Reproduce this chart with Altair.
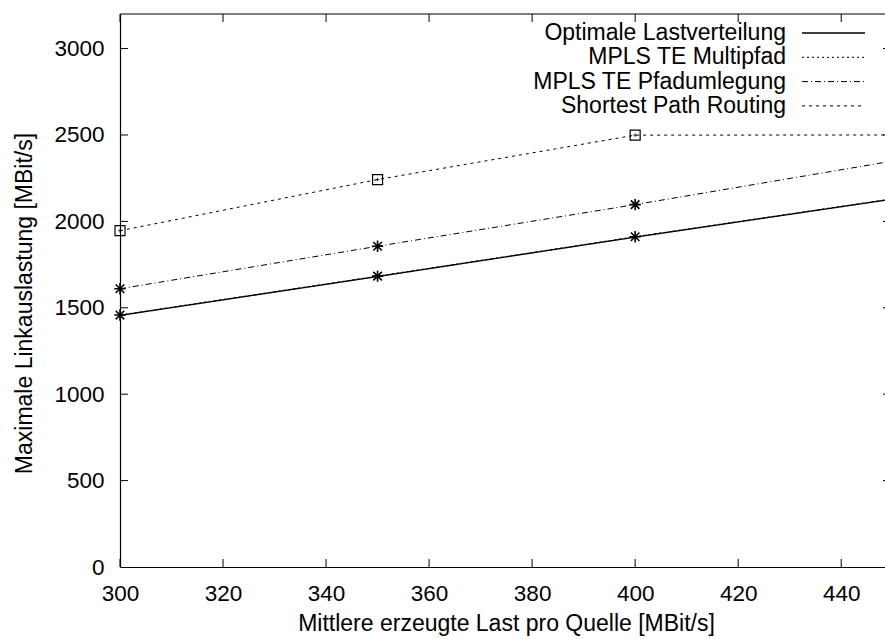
import altair as alt
import pandas as pd

# Mean offered load per source [MBit/s]
load = [300, 350, 400, 450]

# Maximum link utilisation [MBit/s] per routing strategy
optimal = [1456, 1681, 1909, 2129]
multipath = [1458, 1683, 1911, 2131]
rerouting = [1610, 1856, 2097, 2349]
shortest = [1946, 2242, 2499, 2500]

series_names = [
    "Optimale Lastverteilung",
    "MPLS TE Multipfad",
    "MPLS TE Pfadumlegung",
    "Shortest Path Routing",
]
series_values = [optimal, multipath, rerouting, shortest]

x_ticks = [300, 320, 340, 360, 380, 400, 420, 440]
y_ticks = [0, 500, 1000, 1500, 2000, 2500, 3000]

FONT = "Liberation Sans"
W, H = 765, 553
X_DOMAIN = [300, 448.5]
Y_DOMAIN = [0, 3200]
TICK_LEN = 8

dashes = {
    "Optimale Lastverteilung": [1, 0],
    "MPLS TE Multipfad": [2, 3],
    "MPLS TE Pfadumlegung": [6, 3, 1, 3],
    "Shortest Path Routing": [3, 4],
}
widths = {
    "Optimale Lastverteilung": 1.4,
    "MPLS TE Multipfad": 1.0,
    "MPLS TE Pfadumlegung": 1.0,
    "Shortest Path Routing": 1.0,
}

rows = []
for name, vals in zip(series_names, series_values):
    for xv, yv in zip(load, vals):
        rows.append({"load": xv, "util": yv, "series": name})
df = pd.DataFrame(rows)

x_scale = alt.Scale(domain=X_DOMAIN, nice=False, zero=False)
y_scale = alt.Scale(domain=Y_DOMAIN, nice=False, zero=True)

x_axis = alt.Axis(
    values=x_ticks, format="d", ticks=False, grid=False, domainColor="black",
    domainWidth=1.2, labelFont=FONT, labelFontSize=22.5, labelColor="black",
    labelPadding=15, labelFlush=False,
    title="Mittlere erzeugte Last pro Quelle [MBit/s]", titleFont=FONT,
    titleFontSize=23, titleFontWeight="normal", titleColor="black",
    titleX=386, titleY=56, titleAlign="center", titleBaseline="middle",
)
y_axis = alt.Axis(
    values=y_ticks, format="d", ticks=False, grid=False, domainColor="black",
    domainWidth=1.2, labelFont=FONT, labelFontSize=22.5, labelColor="black",
    labelPadding=16, labelFlush=False,
    title="Maximale Linkauslastung [MBit/s]", titleFont=FONT,
    titleFontSize=23, titleFontWeight="normal", titleColor="black",
    titleX=-96, titleY=289, titleAlign="center", titleBaseline="middle",
    titleAngle=270,
)

base = alt.Chart(df).encode(
    x=alt.X("load:Q", scale=x_scale, axis=x_axis),
    y=alt.Y("util:Q", scale=y_scale, axis=y_axis),
)

layers = []
for name in series_names:
    layers.append(
        base.transform_filter(alt.datum.series == name).mark_line(
            color="black", strokeDash=dashes[name], strokeWidth=widths[name],
            clip=True,
        )
    )

STAR = "M-1,0L1,0M0,-1L0,1M-0.75,-0.75L0.75,0.75M-0.75,0.75L0.75,-0.75"
for name in ["MPLS TE Multipfad", "MPLS TE Pfadumlegung"]:
    layers.append(
        base.transform_filter(alt.datum.series == name).mark_point(
            shape=STAR, size=130, color="black", strokeWidth=1.6, filled=False,
            opacity=1,
        )
    )
layers.append(
    base.transform_filter(alt.datum.series == "Shortest Path Routing").mark_point(
        shape="square", size=100, color="black", strokeWidth=1.2, filled=False,
        opacity=1,
    )
)
layers.append(
    base.transform_filter(alt.datum.series == "Shortest Path Routing").mark_point(
        shape="M-1,0L1,0M0,-1L0,1", size=12, color="black", strokeWidth=1,
        filled=False, opacity=0.8,
    )
)

# Border along the top edge
layers.append(
    alt.Chart(pd.DataFrame({"a": [0]})).mark_rule(color="black", strokeWidth=1.2).encode(
        x=alt.value(0), x2=alt.value(W), y=alt.value(0)
    )
)

# Inward tick marks on bottom and top
xt = pd.DataFrame({"t": x_ticks})
layers.append(
    alt.Chart(xt).mark_rule(color="black", strokeWidth=1).encode(
        x=alt.X("t:Q", scale=x_scale), y=alt.value(H), y2=alt.value(H - TICK_LEN)
    )
)
layers.append(
    alt.Chart(xt).mark_rule(color="black", strokeWidth=1).encode(
        x=alt.X("t:Q", scale=x_scale), y=alt.value(0), y2=alt.value(TICK_LEN)
    )
)
# Inward tick marks on the left, mirrored ones on the right border
yt = pd.DataFrame({"t": y_ticks[1:]})
layers.append(
    alt.Chart(yt).mark_rule(color="black", strokeWidth=1).encode(
        y=alt.Y("t:Q", scale=y_scale), x=alt.value(0), x2=alt.value(TICK_LEN)
    )
)
layers.append(
    alt.Chart(yt).mark_rule(color="black", strokeWidth=1, clip=True).encode(
        y=alt.Y("t:Q", scale=y_scale), x=alt.value(772 - TICK_LEN - 1), x2=alt.value(772)
    )
)

# Key in the upper right corner
for i, name in enumerate(series_names):
    yrow = 19 + 24.3 * i
    ldf = pd.DataFrame({"name": [name]})
    layers.append(
        alt.Chart(ldf).mark_text(
            font=FONT, fontSize=23, color="black", align="right", baseline="middle"
        ).encode(text="name:N", x=alt.value(666), y=alt.value(yrow))
    )
    layers.append(
        alt.Chart(ldf).mark_rule(
            color="black", strokeDash=dashes[name], strokeWidth=widths[name]
        ).encode(x=alt.value(682), x2=alt.value(745), y=alt.value(yrow))
    )

chart = alt.layer(*layers).properties(
    width=W,
    height=H,
    padding={"left": 120, "top": 14, "right": 0, "bottom": 72},
    autosize=alt.AutoSizeParams(type="none"),
    background="white",
).configure_view(stroke=None)

chart.save("out.html", embed_options={"renderer": "svg", "actions": False})
